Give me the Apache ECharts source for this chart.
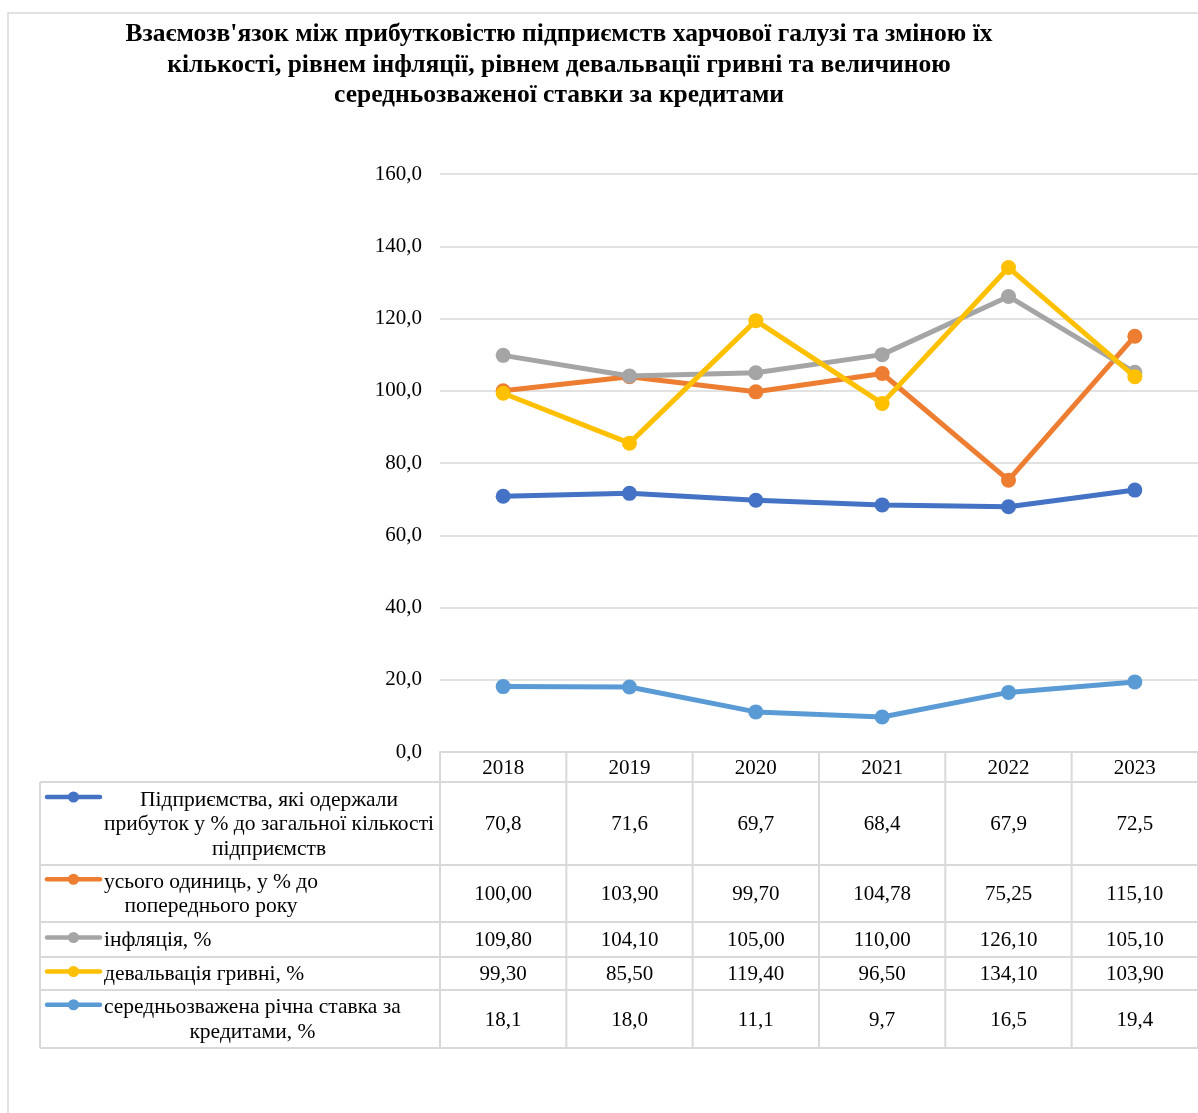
<!DOCTYPE html>
<html>
<head>
<meta charset="utf-8">
<script src="https://cdn.jsdelivr.net/npm/echarts@6/dist/echarts.min.js"></script>
<style>
html,body{margin:0;padding:0;background:#fff;}
#c{width:1198px;height:1113px;}
</style>
</head>
<body>
<div id="c"></div>
<script>
// ---- data ----
const titleText = "Взаємозв'язок між прибутковістю підприємств харчової галузі та зміною їх\nкількості, рівнем інфляції, рівнем девальвації гривні та величиною\nсередньозваженої ставки за кредитами";
const years = ['2018', '2019', '2020', '2021', '2022', '2023'];
const seriesNames = [
  'Підприємства, які одержали\nприбуток у % до загальної кількості\nпідприємств',
  'усього одиниць, у % до\nпопереднього року',
  'інфляція, %',
  'девальвація гривні, %',
  'середньозважена річна ставка за\nкредитами, %'
];
const profitShare = [70.8, 71.6, 69.7, 68.4, 67.9, 72.5];
const totalUnits = [100.00, 103.90, 99.70, 104.78, 75.25, 115.10];
const inflation = [109.80, 104.10, 105.00, 110.00, 126.10, 105.10];
const devaluation = [99.30, 85.50, 119.40, 96.50, 134.10, 103.90];
const loanRate = [18.1, 18.0, 11.1, 9.7, 16.5, 19.4];
const decimals = [1, 2, 2, 2, 1];
const yTicks = { min: 0, max: 160, interval: 20 };

const allSeries = [profitShare, totalUnits, inflation, devaluation, loanRate];
const colors = ['#4472C4', '#ED7D31', '#A5A5A5', '#FFC000', '#5B9BD5'];
const FONT = '"Liberation Serif", "Times New Roman", serif';
const GRIDC = '#d9d9d9';
const NUMSIZE = 21;
const NAMESIZE = 21.5;

const chart = echarts.init(document.getElementById('c'), null, { renderer: 'canvas' });

const gridLeft = 440, gridTop = 174, gridBottomY = 752, gridRightX = 1198;

chart.setOption({
  animation: false,
  backgroundColor: '#fff',
  grid: { left: gridLeft, top: gridTop, width: gridRightX - gridLeft, height: gridBottomY - gridTop, containLabel: false },
  xAxis: {
    type: 'category',
    data: years,
    boundaryGap: true,
    axisLine: { show: true, lineStyle: { color: GRIDC, width: 2 } },
    axisTick: { show: false },
    axisLabel: { fontFamily: FONT, fontSize: NUMSIZE, color: '#000', margin: 6 }
  },
  yAxis: {
    type: 'value',
    min: yTicks.min, max: yTicks.max, interval: yTicks.interval,
    axisLine: { show: false },
    axisTick: { show: false },
    splitLine: { lineStyle: { color: GRIDC, width: 1.5 } },
    axisLabel: {
      fontFamily: FONT, fontSize: NUMSIZE, color: '#000', margin: 18,
      padding: [4, 0, 0, 0],
      formatter: v => v.toFixed(1).replace('.', ',')
    }
  },
  series: allSeries.map((d, i) => ({
    type: 'line',
    name: seriesNames[i].replace(/\n/g, ' '),
    data: d,
    symbol: 'circle',
    symbolSize: 15,
    lineStyle: { width: 5, color: colors[i], cap: 'round', join: 'round' },
    itemStyle: { color: colors[i] },
    z: 2 + i
  }))
});

// ---- table & decorations ----
const centers = years.map((y, i) => chart.convertToPixel({ xAxisIndex: 0 }, i));
const step = centers[1] - centers[0];
const bounds = [centers[0] - step / 2].concat(centers.map(c => c + step / 2));

const rowBounds = [782, 865, 922, 957, 990, 1048];
const tableLeft = 40;
const textStart = 104;
const lineH = 24.5;

const ctx = document.createElement('canvas').getContext('2d');
ctx.font = NAMESIZE + 'px ' + FONT;

const g = [];
// outer border
g.push({ type: 'polyline', shape: { points: [[8, 1113], [8, 13], [1198, 13]] }, style: { stroke: GRIDC, lineWidth: 1.5, fill: null }, silent: true });
// title
g.push({
  type: 'text', x: 559, y: 19.5, silent: true,
  style: { text: titleText, fontFamily: FONT, fontWeight: 'bold', fontSize: 25.5, lineHeight: 30.5, textAlign: 'center', textVerticalAlign: 'top', fill: '#000' }
});
// horizontal table lines
rowBounds.forEach(y => {
  g.push({ type: 'line', shape: { x1: tableLeft, y1: y, x2: gridRightX, y2: y }, style: { stroke: GRIDC, lineWidth: 2 }, silent: true });
});
// vertical lines
g.push({ type: 'line', shape: { x1: tableLeft, y1: rowBounds[0], x2: tableLeft, y2: rowBounds[rowBounds.length - 1] }, style: { stroke: GRIDC, lineWidth: 2 }, silent: true });
bounds.forEach(x => {
  g.push({ type: 'line', shape: { x1: x, y1: gridBottomY, x2: x, y2: rowBounds[rowBounds.length - 1] }, style: { stroke: GRIDC, lineWidth: 2 }, silent: true });
});
// rows
seriesNames.forEach((name, r) => {
  const top = rowBounds[r], bot = rowBounds[r + 1];
  const mid = (top + bot) / 2;
  const lines = name.split('\n');
  const maxW = Math.max.apply(null, lines.map(l => ctx.measureText(l).width));
  const blockTop = mid - lines.length * lineH / 2;
  g.push({
    type: 'text', x: textStart + maxW / 2, y: blockTop + 1, silent: true,
    style: { text: name, fontFamily: FONT, fontSize: NAMESIZE, lineHeight: lineH, textAlign: 'center', textVerticalAlign: 'top', fill: '#000' }
  });
  const symY = blockTop + lineH / 2 - 2;
  g.push({ type: 'line', shape: { x1: 47, y1: symY, x2: 100, y2: symY }, style: { stroke: colors[r], lineWidth: 4.5, lineCap: 'round' }, silent: true });
  g.push({ type: 'circle', shape: { cx: 73.5, cy: symY, r: 5.5 }, style: { fill: colors[r] }, silent: true });
  allSeries[r].forEach((v, i) => {
    g.push({
      type: 'text', x: centers[i], y: mid + 1, silent: true,
      style: { text: v.toFixed(decimals[r]).replace('.', ','), fontFamily: FONT, fontSize: NUMSIZE, textAlign: 'center', textVerticalAlign: 'middle', fill: '#000' }
    });
  });
});

chart.setOption({ graphic: { elements: g } });
</script>
</body>
</html>
